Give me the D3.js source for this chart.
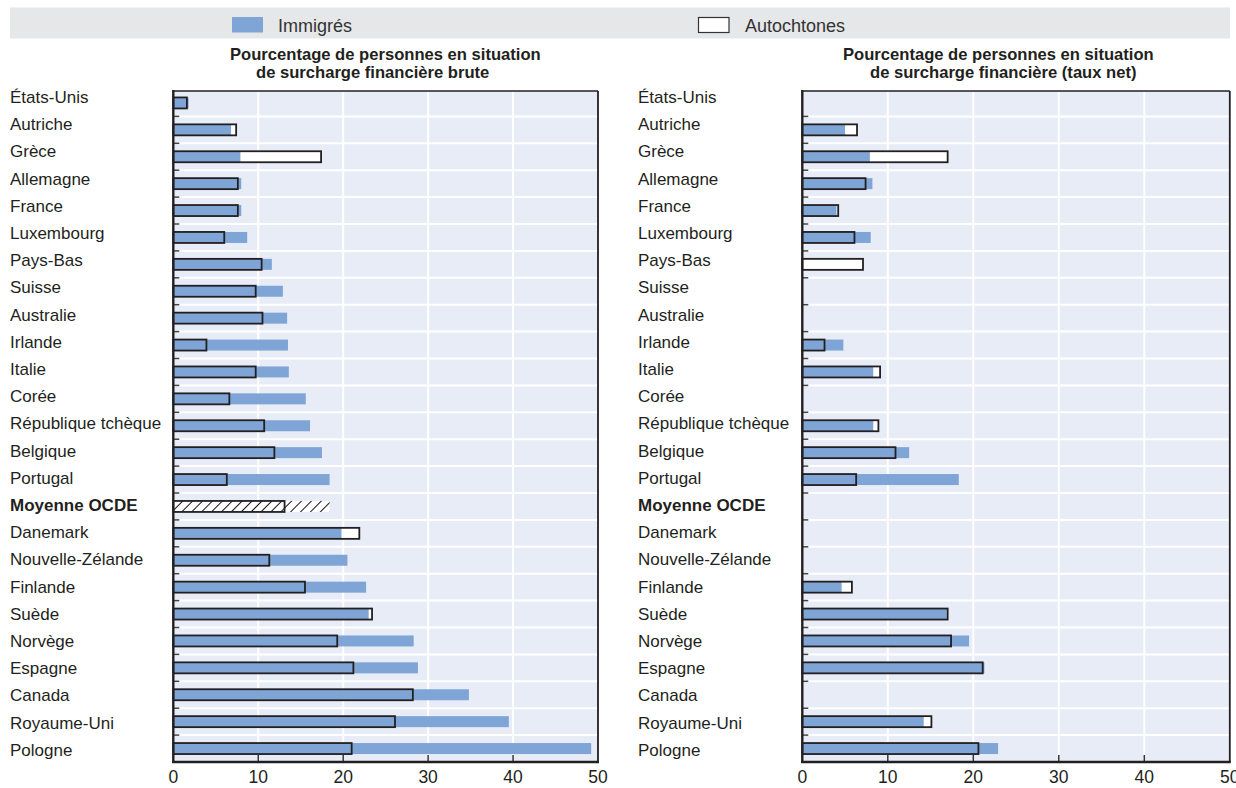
<!DOCTYPE html>
<html><head><meta charset="utf-8">
<script src="https://cdn.jsdelivr.net/npm/d3@7"></script>
<style>
body{margin:0;background:#fff;}
svg{display:block;font-family:"Liberation Sans Narrow","Arial Narrow","Liberation Sans",sans-serif;}
</style></head>
<body>
<svg id="c" width="1236" height="788"></svg>
<script>
const categories = ["États-Unis","Autriche","Grèce","Allemagne","France","Luxembourg","Pays-Bas","Suisse","Australie","Irlande","Italie","Corée","République tchèque","Belgique","Portugal","Moyenne OCDE","Danemark","Nouvelle-Zélande","Finlande","Suède","Norvège","Espagne","Canada","Royaume-Uni","Pologne"];
const grossImmigrants = [1.8,6.8,7.9,8.0,8.0,8.7,11.6,12.9,13.4,13.5,13.6,15.6,16.1,17.5,18.4,18.4,19.8,20.5,22.7,23.0,28.3,28.8,34.8,39.5,49.2];
const grossNatives     = [1.6,7.4,17.4,7.6,7.6,6.0,10.4,9.7,10.5,3.9,9.7,6.6,10.7,11.9,6.3,13.1,21.9,11.3,15.5,23.4,19.3,21.2,28.2,26.1,21.0];
const netImmigrants = [null,5.0,7.9,8.2,4.0,8.0,null,null,null,4.8,8.3,null,8.3,12.5,18.3,null,null,null,4.6,16.9,19.5,21.3,null,14.2,22.9];
const netNatives    = [null,6.4,17.0,7.4,4.2,6.1,7.1,null,null,2.6,9.1,null,8.9,10.9,6.3,null,null,null,5.8,17.0,17.4,21.1,null,15.1,20.6];
const xTicks = [0,10,20,30,40,50];
const legendLabels = ["Immigrés","Autochtones"];
const panelTitles = [["Pourcentage de personnes en situation","de surcharge financière brute"],["Pourcentage de personnes en situation","de surcharge financière (taux net)"]];
const averageLabel = "Moyenne OCDE";

const BLUE = "#7ea5d6", BG = "#e8ecf6", DARK = "#231f20";
const svg = d3.select("#c");

const defs = svg.append("defs");
const pat = defs.append("pattern").attr("id","hatch").attr("patternUnits","userSpaceOnUse")
  .attr("width",7).attr("height",7).attr("patternTransform","rotate(45)");
pat.append("rect").attr("width",7).attr("height",7).attr("fill","#fff");
pat.append("line").attr("x1",0).attr("y1",0).attr("x2",0).attr("y2",7).attr("stroke","#111").attr("stroke-width",2);

// legend band
svg.append("rect").attr("x",10).attr("y",7.5).attr("width",1220).attr("height",31).attr("fill","#e6e7e8");
svg.append("rect").attr("x",232).attr("y",17).attr("width",31).attr("height",15.5).attr("fill",BLUE);
svg.append("text").attr("x",278).attr("y",31.5).attr("font-size",18).attr("fill","#333").text(legendLabels[0]);
svg.append("rect").attr("x",698.5).attr("y",17.5).attr("width",30.5).attr("height",15).attr("fill","#fff").attr("stroke","#333").attr("stroke-width",1.2);
svg.append("text").attr("x",745).attr("y",31.5).attr("font-size",18).attr("fill","#333").text(legendLabels[1]);

const y = d3.scaleBand().domain(categories).range([89.5,762]);
const yLab = d3.scaleBand().domain(categories).range([83.4,763.4]);
const barH = 11;

function panel(x0, x1, labelX, imm, nat, title, titleX){
  const x = d3.scaleLinear().domain([0,50]).range([x0,x1]);
  const g = svg.append("g");
  // title
  g.append("text").attr("x",titleX[0]).attr("y",59.5).attr("font-size",16.6).attr("font-weight","bold").attr("fill","#231f20").text(title[0]);
  g.append("text").attr("x",titleX[1]).attr("y",77.5).attr("font-size",16.6).attr("font-weight","bold").attr("fill","#231f20").text(title[1]);
  // background
  g.append("rect").attr("x",x0).attr("y",91).attr("width",x1-x0).attr("height",762-91).attr("fill",BG);
  // grid
  g.selectAll(".gv").data(xTicks.slice(1,-1)).join("line")
    .attr("x1",d=>x(d)).attr("x2",d=>x(d)).attr("y1",91).attr("y2",762)
    .attr("stroke","#fff").attr("stroke-width",2);
  g.selectAll(".gh").data(categories.slice(1)).join("line")
    .attr("x1",x0).attr("x2",x1).attr("y1",d=>y(d)).attr("y2",d=>y(d))
    .attr("stroke","#fff").attr("stroke-width",2);
  // left ticks
  g.selectAll(".tk").data(categories.slice(1)).join("line")
    .attr("x1",x0).attr("x2",x0+6).attr("y1",d=>y(d)).attr("y2",d=>y(d))
    .attr("stroke","#444").attr("stroke-width",1.5);
  // bottom ticks
  g.selectAll(".bt").data(xTicks.slice(1,-1)).join("line")
    .attr("x1",d=>x(d)).attr("x2",d=>x(d)).attr("y1",762).attr("y2",755)
    .attr("stroke","#333").attr("stroke-width",1.5);

  const rows = categories.map((c,i)=>({c, imm:imm[i], nat:nat[i], avg:c===averageLabel}));
  const yc = d => y(d.c) + y.bandwidth()/2 - barH/2;
  g.selectAll(".nf").data(rows.filter(d=>d.nat!=null)).join("rect")
    .attr("x",x0).attr("y",yc).attr("width",d=>x(d.nat)-x0).attr("height",barH)
    .attr("fill",d=>d.avg?"url(#hatch)":"#fff");
  g.selectAll(".ib").data(rows.filter(d=>d.imm!=null)).join("rect")
    .attr("x",x0).attr("y",yc).attr("width",d=>x(d.imm)-x0).attr("height",barH)
    .attr("fill",d=>d.avg?"url(#hatch)":BLUE);
  g.selectAll(".no").data(rows.filter(d=>d.nat!=null)).join("rect")
    .attr("x",x0).attr("y",yc).attr("width",d=>x(d.nat)-x0).attr("height",barH)
    .attr("fill","none").attr("stroke",DARK).attr("stroke-width",1.8);

  // frame
  g.append("line").attr("x1",x0).attr("x2",x1).attr("y1",91).attr("y2",91).attr("stroke",DARK).attr("stroke-width",1.6);
  g.append("line").attr("x1",x1).attr("x2",x1).attr("y1",91).attr("y2",762).attr("stroke",DARK).attr("stroke-width",1.8);
  g.append("line").attr("x1",x0).attr("x2",x0).attr("y1",90).attr("y2",763).attr("stroke",DARK).attr("stroke-width",2.4);
  g.append("line").attr("x1",x0-1).attr("x2",x1+1).attr("y1",762).attr("y2",762).attr("stroke",DARK).attr("stroke-width",2.4);

  // category labels
  g.selectAll(".lb").data(rows).join("text")
    .attr("x",labelX).attr("y",d=>yLab(d.c)+yLab.bandwidth()/2+6)
    .attr("font-size",17).attr("fill","#231f20")
    .attr("font-weight",d=>d.avg?"bold":"normal")
    .text(d=>d.c);
  // tick labels
  g.selectAll(".tl").data(xTicks).join("text")
    .attr("x",d=>x(d)).attr("y",783).attr("text-anchor","middle")
    .attr("font-size",17.5).attr("fill","#231f20").text(d=>d);
}

panel(173.3, 598, 10, grossImmigrants, grossNatives, panelTitles[0], [230,256]);
panel(802.3, 1229.8, 638, netImmigrants, netNatives, panelTitles[1], [843,870]);
</script>
</body></html>
